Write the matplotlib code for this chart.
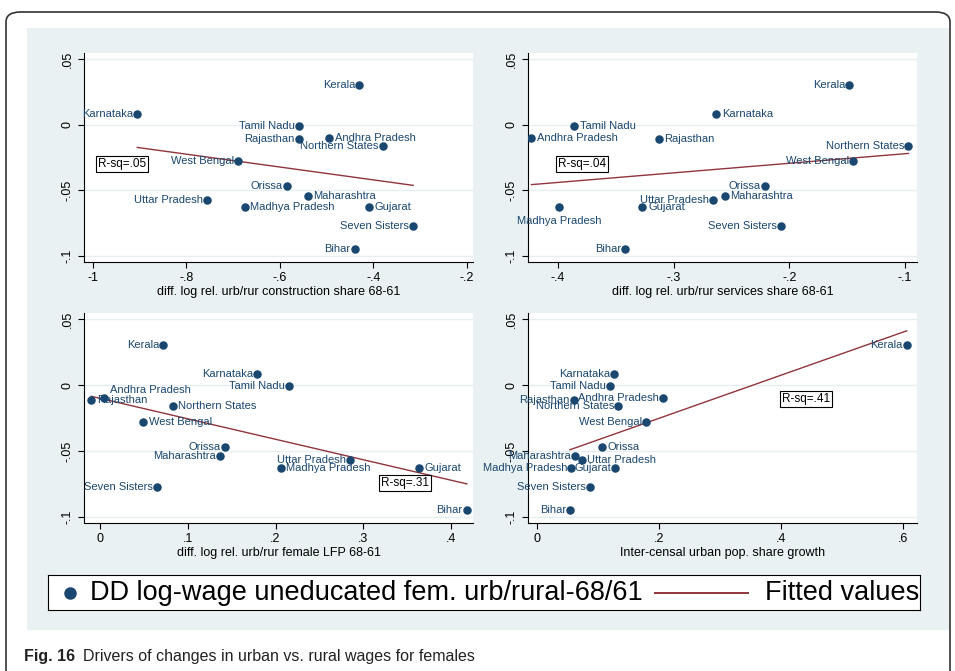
import numpy as np
import matplotlib
matplotlib.use("Agg")
import matplotlib.pyplot as plt
from matplotlib.patches import FancyBboxPatch, Rectangle

plt.rcParams['font.family'] = ['Liberation Sans', 'DejaVu Sans']

states = ["Kerala", "Karnataka", "Tamil Nadu", "Andhra Pradesh", "Rajasthan", "Northern States",
          "West Bengal", "Orissa", "Maharashtra", "Uttar Pradesh", "Madhya Pradesh", "Gujarat",
          "Seven Sisters", "Bihar"]
dd_wage = [0.030, 0.008, -0.001, -0.010, -0.011, -0.016, -0.028, -0.047, -0.054, -0.057,
           -0.063, -0.063, -0.077, -0.095]
construction = [-0.43, -0.905, -0.56, -0.495, -0.56, -0.38, -0.69, -0.585, -0.54, -0.755,
                -0.675, -0.41, -0.315, -0.44]
services = [-0.148, -0.263, -0.386, -0.423, -0.313, -0.097, -0.145, -0.221, -0.256, -0.266,
            -0.399, -0.327, -0.207, -0.342]
female_lfp = [0.072, 0.179, 0.215, 0.005, -0.010, 0.083, 0.049, 0.142, 0.137, 0.285,
              0.206, 0.363, 0.065, 0.418]
urban_growth = [0.606, 0.127, 0.119, 0.207, 0.060, 0.133, 0.179, 0.107, 0.063, 0.073,
                0.056, 0.128, 0.087, 0.054]
r_squared = [".05", ".04", ".31", ".41"]
legend_labels = ["DD log-wage uneducated fem. urb/rural-68/61", "Fitted values"]

panels = [
    dict(x=construction, xlabel="diff. log rel. urb/rur construction share 68-61",
         xlim=(-1.019, -0.187), xticks=[-1, -0.8, -0.6, -0.4, -0.2],
         xtl=["-1", "-.8", "-.6", "-.4", "-.2"],
         right={"Andhra Pradesh", "Maharashtra", "Madhya Pradesh", "Gujarat"}, below=set(), up=set(),
         box=(0.036, 0.469), rect=(84, 53, 473, 262)),
    dict(x=services, xlabel="diff. log rel. urb/rur services share 68-61",
         xlim=(-0.426, -0.0896), xticks=[-0.4, -0.3, -0.2, -0.1],
         xtl=["-.4", "-.3", "-.2", "-.1"],
         right={"Karnataka", "Tamil Nadu", "Andhra Pradesh", "Rajasthan", "Maharashtra", "Gujarat"},
         below={"Madhya Pradesh"}, up=set(), box=(0.077, 0.469), rect=(528, 53, 917, 262)),
    dict(x=female_lfp, xlabel="diff. log rel. urb/rur female LFP 68-61",
         xlim=(-0.0182, 0.425), xticks=[0, 0.1, 0.2, 0.3, 0.4],
         xtl=["0", ".1", ".2", ".3", ".4"],
         right={"Andhra Pradesh", "Rajasthan", "Northern States", "West Bengal", "Madhya Pradesh", "Gujarat"},
         below=set(), up={"Andhra Pradesh"}, box=(0.763, 0.19), rect=(84, 313, 473, 523)),
    dict(x=urban_growth, xlabel="Inter-censal urban pop. share growth",
         xlim=(-0.0148, 0.623), xticks=[0, 0.2, 0.4, 0.6],
         xtl=["0", ".2", ".4", ".6"],
         right={"Orissa", "Uttar Pradesh"}, below=set(), up=set(),
         box=(0.653, 0.59), rect=(528, 313, 917, 523)),
]

W, H = 955, 671
fig = plt.figure(figsize=(W / 100, H / 100), dpi=100)
fig.patch.set_facecolor("white")
fig.patches.append(FancyBboxPatch((6 / W, -0.05), 944 / W, 1.05 - 12 / H,
                                  boxstyle="round,pad=0,rounding_size=0.015",
                                  transform=fig.transFigure, facecolor="white", edgecolor="#333333",
                                  lw=1.2, zorder=-10))
fig.patches.append(Rectangle((27 / W, (H - 630) / H), 922 / W, 602 / H, transform=fig.transFigure,
                             facecolor="#eaf1f3", edgecolor="none", zorder=-9))

blue = "#1a476f"
red = "#90353b"
for p, rs in zip(panels, r_squared):
    l, t, r, b = p["rect"]
    ax = fig.add_axes([l / W, (H - b) / H, (r - l) / W, (b - t) / H])
    ax.set_facecolor("white")
    x = np.array(p["x"]); y = np.array(dd_wage)
    ax.scatter(x, y, s=26, color=blue, zorder=3)
    for xi, yi, s in zip(x, y, states):
        if s in p["below"]:
            ax.annotate(s, (xi, yi), xytext=(0, -6), textcoords="offset points", ha="center", va="top",
                        fontsize=8, color=blue)
        elif s in p["right"]:
            dy = 6 if s in p["up"] else 0
            ax.annotate(s, (xi, yi), xytext=(4, dy), textcoords="offset points", ha="left", va="center",
                        fontsize=8, color=blue)
        else:
            ax.annotate(s, (xi, yi), xytext=(-3, 0), textcoords="offset points", ha="right", va="center",
                        fontsize=8, color=blue)
    c = np.polyfit(x, y, 1)
    xs = np.array([x.min(), x.max()])
    ax.plot(xs, np.polyval(c, xs), color=red, lw=1)
    ax.set_xlim(*p["xlim"]); ax.set_ylim(-0.1046, 0.0546)
    ax.set_xticks(p["xticks"]); ax.set_xticklabels(p["xtl"])
    ax.set_yticks([0.05, 0, -0.05, -0.1])
    ax.set_yticklabels([".05", "0", "-.05", "-.1"], rotation=90, va="center")
    ax.tick_params(labelsize=9, length=4, color="black")
    ax.grid(axis="y", color="#e6eef0", lw=1)
    ax.set_axisbelow(True)
    for sp in ["top", "right"]:
        ax.spines[sp].set_visible(False)
    ax.set_xlabel(p["xlabel"], fontsize=9, labelpad=1)
    ax.text(p["box"][0], p["box"][1], "R-sq=" + rs, transform=ax.transAxes, fontsize=8.5, va="center",
            bbox=dict(boxstyle="square,pad=0.15", facecolor="white", edgecolor="black", lw=0.8))

# legend, drawn in a pixel-based axes
leg_ax = fig.add_axes([48 / W, (H - 610) / H, 872 / W, 35 / H])
leg_ax.set_xlim(48, 920); leg_ax.set_ylim(0, 35)
leg_ax.set_xticks([]); leg_ax.set_yticks([])
leg_ax.set_facecolor("white")
leg_ax.plot([70], [17.5], "o", color=blue, markersize=8)
leg_ax.text(90, 17.5, legend_labels[0], fontsize=19.5, va="center", ha="left")
leg_ax.plot([655, 748], [17.5, 17.5], color=red, lw=1.4)
leg_ax.text(765, 17.5, legend_labels[1], fontsize=19.5, va="center", ha="left")

t1 = fig.text(24 / W, 1 - 656 / H, "Fig. 16", fontsize=11.5, fontweight="bold", va="center", color="#222222")
fig.text(83 / W, 1 - 656 / H, "Drivers of changes in urban vs. rural wages for females",
         fontsize=11.5, va="center", color="#222222")

fig.savefig("out.png", dpi=100)
